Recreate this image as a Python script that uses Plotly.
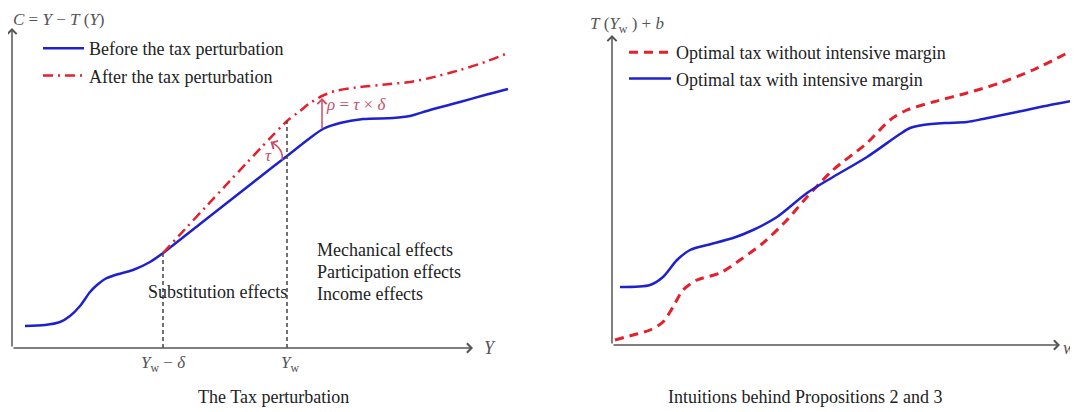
import numpy as np
import plotly.graph_objects as go

# The page body has an 8px margin, so the figure is 1070x404 drawn at (8, 8).
OFF = 8
W, H = 1070, 404
SERIF = "Liberation Serif, Times New Roman, serif"
BLUE = "#1f22cc"
RED = "#e3202c"
PINK = "#c8506a"
AXC = "#555555"

# ---------------- Left panel data (The Tax perturbation) ----------------
y_before = [1.3, 3.3, 4.8, 5.8, 6.8, 7.8, 8.5, 9.3, 10.3, 12.1, 13.8, 15.1, 18.8, 24.8,
            27.5, 29.8, 31.1, 32.8, 35.1, 38.1, 39.8, 41.8, 44.8, 47.3, 49.6]
c_before = [2.2, 2.3, 2.6, 3.2, 4.2, 5.6, 6.3, 6.9, 7.3, 7.8, 8.6, 9.5, 12.4, 17.1,
            19.2, 21.0, 21.9, 22.5, 22.9, 23.0, 23.2, 23.8, 24.6, 25.3, 25.9]
y_after = [15.1, 27.5, 28.8, 29.8, 31.0, 32.3, 34.8, 37.8, 39.8, 41.8, 44.8, 47.3, 49.6]
c_after = [9.5, 22.7, 23.7, 24.5, 25.2, 25.7, 26.1, 26.4, 26.6, 27.0, 27.8, 28.6, 29.5]
Yw_minus_delta = 15.1
Yw = 27.5
rho_x = 31.0

# ---------------- Right panel data (Propositions 2 and 3) ----------------
w_with = [0.8, 3.8, 5.1, 6.5, 7.8, 9.5, 12.1, 14.1, 16.5, 19.5, 22.1, 25.5, 28.8, 29.8,
          31.1, 33.3, 35.5, 37.1, 40.5, 43.8, 46.5]
t_with = [5.8, 6.0, 6.8, 8.5, 9.5, 10.0, 10.7, 11.5, 12.8, 15.2, 16.8, 18.8, 21.1, 21.7,
          22.0, 22.2, 22.3, 22.6, 23.3, 24.0, 24.5]
w_without = [0.3, 2.1, 3.8, 5.1, 6.1, 7.1, 8.5, 10.8, 12.8, 15.1, 17.5, 19.5, 22.1, 25.5,
             27.8, 29.5, 32.1, 35.5, 38.8, 42.1, 46.5]
t_without = [0.5, 1.0, 1.5, 2.3, 3.8, 5.5, 6.5, 7.2, 8.5, 10.2, 12.5, 14.8, 17.5, 20.2,
             22.5, 23.5, 24.3, 25.2, 26.2, 27.5, 29.7]

# axis arrow lengths (data units)
L_XLEN, L_YLEN = 46.1, 32.0
R_XLEN, R_YLEN = 44.8, 31.0


def sx(px):
    return (px - OFF) / W


def sy(py):
    return 1 - (py - OFF) / H


fig = go.Figure()

# left curves
fig.add_trace(go.Scatter(x=y_before, y=c_before, mode="lines", name="Before the tax perturbation",
                         line=dict(color=BLUE, width=2.5, shape="spline", smoothing=0.8),
                         xaxis="x", yaxis="y", legend="legend", legendgroup="a"))
fig.add_trace(go.Scatter(x=y_after, y=c_after, mode="lines", name="After the tax perturbation",
                         line=dict(color=RED, width=2.5, dash="10px,5px,2px,5px", shape="spline", smoothing=0.6),
                         xaxis="x", yaxis="y", legend="legend", legendgroup="b"))

# vertical dashed guides
yb = np.interp(Yw_minus_delta, y_before, c_before)
ya = np.interp(Yw, y_after, c_after)
for xv, top in [(Yw_minus_delta, yb), (Yw, ya)]:
    fig.add_trace(go.Scatter(x=[xv, xv], y=[0, top], mode="lines", showlegend=False,
                             line=dict(color="#444444", width=1.5, dash="4px,3px"),
                             xaxis="x", yaxis="y"))

# right curves
fig.add_trace(go.Scatter(x=w_without, y=t_without, mode="lines", name="Optimal tax without intensive margin",
                         line=dict(color=RED, width=3, dash="9px,6px", shape="spline", smoothing=0.8),
                         xaxis="x2", yaxis="y2", legend="legend2", legendgroup="c"))
fig.add_trace(go.Scatter(x=w_with, y=t_with, mode="lines", name="Optimal tax with intensive margin",
                         line=dict(color=BLUE, width=2.5, shape="spline", smoothing=0.8),
                         xaxis="x2", yaxis="y2", legend="legend2", legendgroup="d"))

ann = []


def arrow(xr, yr, x0, y0, x1, y1, color=AXC, width=1.5, head=4):
    ann.append(dict(x=x1, y=y1, ax=x0, ay=y0, xref=xr, yref=yr, axref=xr, ayref=yr,
                    showarrow=True, arrowhead=head, arrowsize=1.2, arrowwidth=width,
                    arrowcolor=color, text=""))


arrow("x", "y", 0, 0, L_XLEN, 0)
arrow("x", "y", 0, 0, 0, L_YLEN)
arrow("x2", "y2", 0, 0, R_XLEN, 0)
arrow("x2", "y2", 0, 0, 0, R_YLEN)

# rho arrow
rb = np.interp(rho_x, y_before, c_before)
ra = np.interp(rho_x, y_after, c_after)
arrow("x", "y", rho_x, rb, rho_x, ra - 0.2, color=PINK, width=1.5)

# tau arc
fig.add_shape(type="path", xref="x", yref="y",
              path="M 27.0 18.8 Q 27.2 19.9 25.9 20.6",
              line=dict(color=PINK, width=1.5))
arrow("x", "y", 26.3, 20.35, 25.85, 20.6, color=PINK, width=1.5)


def txt(px, py, s, size=18, color="#222222", xanchor="left", yanchor="middle"):
    ann.append(dict(x=sx(px), y=sy(py), xref="paper", yref="paper", text=s,
                    showarrow=False, xanchor=xanchor, yanchor=yanchor,
                    font=dict(family=SERIF, size=size, color=color)))


txt(11, 19, "<i>C</i> = <i>Y</i> − <i>T</i> (<i>Y</i>)", size=17, color="#555555")
txt(588, 25, "<i>T</i> (<i>Y</i><sub>w</sub> ) + <i>b</i>", size=17, color="#555555")
txt(482, 348, "<i>Y</i>", color="#555555")
txt(1077, 348, "<i>w</i>", color="#555555", xanchor="right")
txt(163, 364, "<i>Y</i><sub>w</sub> − <i>δ</i>", size=17, color="#555555", xanchor="center")
txt(290, 364, "<i>Y</i><sub>w</sub>", size=17, color="#555555", xanchor="center")
txt(273, 397, "The Tax perturbation", xanchor="center")
txt(805, 397, "Intuitions behind Propositions 2 and 3", xanchor="center")
txt(146, 292, "Substitution effects")
txt(315, 250, "Mechanical effects")
txt(315, 272, "Participation effects")
txt(315, 294, "Income effects")
txt(324, 104, "<i>ρ</i> = <i>τ</i> × <i>δ</i>", size=17, color=PINK)
txt(268, 155, "<i>τ</i>", size=17, color=PINK, xanchor="center")

ax_common = dict(visible=False, showgrid=False, zeroline=False, fixedrange=True)
fig.update_layout(
    width=W, height=H, margin=dict(l=0, r=0, t=0, b=0),
    paper_bgcolor="white", plot_bgcolor="white",
    xaxis=dict(domain=[sx(12), sx(520)], range=[0, 50.8], **ax_common),
    yaxis=dict(domain=[sy(348), sy(20)], range=[0, 32.8], anchor="x", **ax_common),
    xaxis2=dict(domain=[sx(612), 1.0], range=[0, 46.6], anchor="y2", **ax_common),
    yaxis2=dict(domain=[sy(345), sy(20)], range=[0, 32.5], anchor="x2", **ax_common),
    legend=dict(x=sx(38), y=sy(30), xanchor="left", yanchor="top",
                bgcolor="rgba(0,0,0,0)", borderwidth=0, tracegroupgap=1, itemwidth=41,
                font=dict(family=SERIF, size=18, color="#222222")),
    legend2=dict(x=sx(624), y=sy(34), xanchor="left", yanchor="top",
                 bgcolor="rgba(0,0,0,0)", borderwidth=0, tracegroupgap=0, itemwidth=42,
                 font=dict(family=SERIF, size=18, color="#222222")),
    annotations=ann,
    showlegend=True,
)

fig.write_html("out.html")
